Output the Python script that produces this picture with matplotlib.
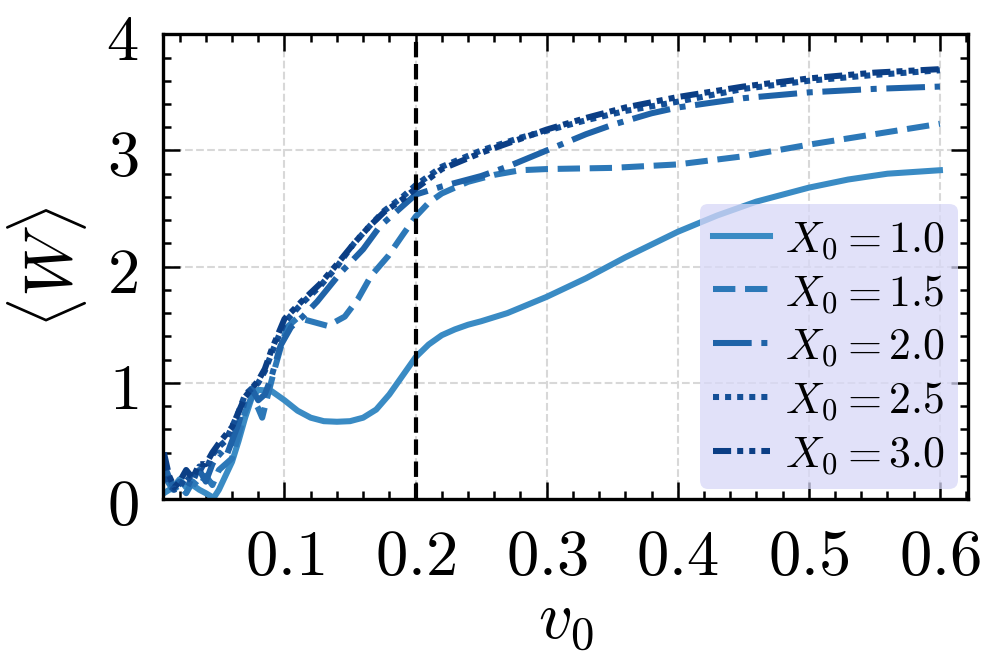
import matplotlib

matplotlib.use("Agg")
import matplotlib.pyplot as plt
from matplotlib.ticker import FuncFormatter, MultipleLocator

plt.rcParams["font.family"] = "serif"
plt.rcParams["font.serif"] = ["DejaVu Serif"]
plt.rcParams["mathtext.fontset"] = "cm"

# values
x_10 = [0.008, 0.015, 0.02, 0.025, 0.03, 0.035, 0.04, 0.046, 0.05, 0.055, 0.06,
        0.065, 0.07, 0.075, 0.08, 0.09, 0.1, 0.11, 0.12, 0.13, 0.14, 0.15, 0.16,
        0.17, 0.18, 0.19, 0.2, 0.21, 0.22, 0.23, 0.24, 0.25, 0.27, 0.3, 0.33,
        0.36, 0.4, 0.43, 0.46, 0.5, 0.53, 0.56, 0.6]
w_10 = [0.05, 0.10, 0.17, 0.10, 0.12, 0.08, 0.05, 0.01, 0.08, 0.20, 0.32,
        0.50, 0.70, 0.87, 0.94, 0.93, 0.85, 0.76, 0.70, 0.67, 0.665, 0.67, 0.70,
        0.77, 0.90, 1.06, 1.22, 1.33, 1.41, 1.46, 1.50, 1.53, 1.60, 1.74, 1.90,
        2.08, 2.30, 2.44, 2.56, 2.68, 2.75, 2.80, 2.83]

x_15 = [0.008, 0.015, 0.02, 0.025, 0.03, 0.035, 0.04, 0.045, 0.05, 0.055, 0.06,
        0.065, 0.07, 0.075, 0.08, 0.083, 0.087, 0.092, 0.097, 0.102, 0.11, 0.12,
        0.133, 0.146, 0.156, 0.166, 0.179, 0.19, 0.2, 0.21, 0.22, 0.24, 0.26,
        0.28, 0.3, 0.35, 0.4, 0.45, 0.5, 0.55, 0.6]
w_15 = [0.20, 0.08, 0.12, 0.05, 0.15, 0.10, 0.20, 0.12, 0.25, 0.30, 0.35,
        0.55, 0.75, 0.88, 0.78, 0.70, 0.88, 1.10, 1.30, 1.48, 1.56, 1.53,
        1.49, 1.57, 1.72, 1.92, 2.09, 2.27, 2.43, 2.55, 2.63, 2.73, 2.79,
        2.83, 2.84, 2.85, 2.88, 2.95, 3.05, 3.14, 3.23]

x_20 = [0.008, 0.015, 0.02, 0.025, 0.03, 0.035, 0.04, 0.045, 0.05, 0.055, 0.06,
        0.065, 0.07, 0.075, 0.08, 0.085, 0.09, 0.097, 0.105, 0.114, 0.125, 0.143,
        0.16, 0.173, 0.19, 0.2, 0.22, 0.25, 0.27, 0.3, 0.33, 0.35, 0.38, 0.4,
        0.45, 0.5, 0.55, 0.6]
w_20 = [0.30, 0.10, 0.15, 0.08, 0.20, 0.25, 0.15, 0.30, 0.40, 0.35, 0.50,
        0.65, 0.85, 0.95, 0.85, 0.90, 1.05, 1.32, 1.48, 1.57, 1.70, 1.95,
        2.15, 2.35, 2.52, 2.62, 2.69, 2.78, 2.86, 3.00, 3.14, 3.22, 3.32, 3.37,
        3.45, 3.50, 3.53, 3.55]

x_25 = [0.008, 0.012, 0.016, 0.02, 0.025, 0.03, 0.035, 0.04, 0.045, 0.05, 0.055,
        0.06, 0.065, 0.07, 0.075, 0.08, 0.085, 0.09, 0.1, 0.113, 0.127, 0.14,
        0.153, 0.165, 0.176, 0.19, 0.2, 0.22, 0.25, 0.28, 0.3, 0.33, 0.36, 0.4,
        0.45, 0.5, 0.55, 0.6]
w_25 = [0.30, 0.12, 0.08, 0.10, 0.20, 0.15, 0.28, 0.25, 0.38, 0.45, 0.50,
        0.62, 0.75, 0.90, 0.95, 1.00, 1.10, 1.25, 1.52, 1.68, 1.83, 2.00,
        2.20, 2.35, 2.48, 2.60, 2.70, 2.86, 3.00, 3.11, 3.17, 3.26, 3.34, 3.42,
        3.53, 3.60, 3.65, 3.69]

x_30 = x_25
w_30 = [0.40, 0.20, 0.10, 0.15, 0.25, 0.18, 0.30, 0.30, 0.40, 0.48, 0.55,
        0.62, 0.75, 0.88, 0.95, 1.02, 1.12, 1.28, 1.55, 1.70, 1.85, 2.02,
        2.20, 2.35, 2.47, 2.58, 2.67, 2.84, 2.98, 3.10, 3.18, 3.28, 3.37, 3.46,
        3.55, 3.62, 3.67, 3.70]

series = [
    (x_10, w_10, r"$X_0=1.0$", "#3a8bc4", "-"),
    (x_15, w_15, r"$X_0=1.5$", "#2c78b8", "--"),
    (x_20, w_20, r"$X_0=2.0$", "#1f63a8", "-."),
    (x_25, w_25, r"$X_0=2.5$", "#144f97", (0, (1, 1))),
    (x_30, w_30, r"$X_0=3.0$", "#0b3e85", (0, (3, 1, 1, 1, 1, 1))),
]

v_mark = 0.2

fig = plt.figure(figsize=(3.32, 2.213), dpi=300)
ax = fig.add_axes([0.164, 0.247, 0.808, 0.700])

for xs, ws, label, color, ls in series:
    ax.plot(xs, ws, color=color, linestyle=ls, linewidth=1.45, label=label)

ax.axvline(v_mark, color="black", linestyle="--", linewidth=1.0)

ax.set_xlim(0.0076, 0.6215)
ax.set_ylim(0, 4)
ax.xaxis.set_major_locator(MultipleLocator(0.1))
ax.xaxis.set_minor_locator(MultipleLocator(0.02))
ax.yaxis.set_major_locator(MultipleLocator(1))
ax.yaxis.set_minor_locator(MultipleLocator(0.2))
ax.xaxis.set_major_formatter(FuncFormatter(lambda v, p: rf"${v:.1f}$"))
ax.yaxis.set_major_formatter(FuncFormatter(lambda v, p: rf"${v:.0f}$"))

ax.tick_params(which="both", direction="in", top=True, right=True,
               labelsize=15.5, width=0.6)
ax.tick_params(which="major", length=4, pad=6)
ax.tick_params(which="minor", length=2)
for spine in ax.spines.values():
    spine.set_linewidth(0.8)

ax.grid(True, which="major", linestyle="--", linewidth=0.5, color="#d8d8d8")

ax.set_xlabel(r"$v_0$", fontsize=16, labelpad=0)
ax.set_ylabel(r"$\langle W \rangle$", fontsize=16, labelpad=4)

leg = ax.legend(loc="lower right", fontsize=10.5, facecolor="#d8d8f8",
                framealpha=0.75, edgecolor="none", handlelength=1.3,
                handletextpad=0.35, labelspacing=0.22, borderpad=0.3,
                borderaxespad=0.23)

fig.savefig("out.png", dpi=300)
